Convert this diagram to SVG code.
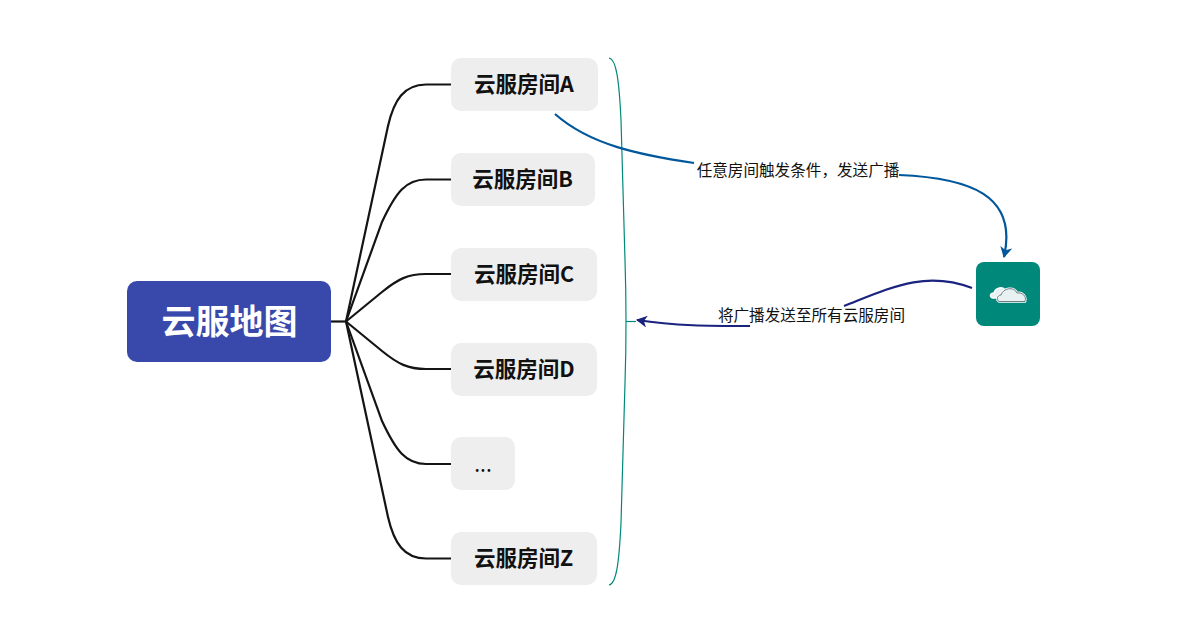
<svg xmlns="http://www.w3.org/2000/svg" width="1198" height="639" viewBox="0 0 1198 639">
<style>
text{font-family:"Microsoft YaHei","Noto Sans CJK SC","Noto Sans",sans-serif;fill:#111}
.n{font-size:21.500px;font-weight:700}
.b{fill:#eeeeee}
.l{font-size:15.600px;fill:#111}
.c{fill:none;stroke:#141414;stroke-width:2.200}
</style>
<defs>
<marker id="ab" markerUnits="userSpaceOnUse" markerWidth="14" markerHeight="14" refX="10" refY="6" orient="auto"><path d="M0 0L11 6L0 12L3 6Z" fill="#01579b"/></marker>
<marker id="an" markerUnits="userSpaceOnUse" markerWidth="14" markerHeight="14" refX="10" refY="6" orient="auto"><path d="M0 0L11 6L0 12L3 6Z" fill="#1a237e"/></marker>
</defs>
<rect width="1198" height="639" fill="#fff"/>
<g id="connectors">
<path class="c" d="M331 321.500H346"/>
<path class="c" d="M346 321.500L388 126C394 100 404 84.500 426 84.500H451"/>
<path class="c" d="M346 321.500L382 222C396 192 406 179.500 426 179.500H451"/>
<path class="c" d="M346 321.500L382 292C398 279 408 274 426 274H451"/>
<path class="c" d="M346 321.500L382 351C398 364 408 369 426 369H451"/>
<path class="c" d="M346 321.500L382 421C396 451 406 464 426 464H451"/>
<path class="c" d="M346 321.500L388 517C394 543 404 558.500 426 558.500H451"/>
<path d="M609 58C616 59 619 78 621 120L625 260C626 290 626 310 626 321.500C626 333 626 353 625 383L621 523C619 565 616 584 609 585" fill="none" stroke="#00897b" stroke-width="1.200"/>
<path d="M626 321.500H636" fill="none" stroke="#00897b" stroke-width="1.200"/>
<path d="M555 114C590 145 640 155 694 163" fill="none" stroke="#01579b" stroke-width="2.200"/>
<path d="M899 175C970 178 1018 195 1004 257" fill="none" stroke="#01579b" stroke-width="2.200" marker-end="url(#ab)"/>
<path d="M972 288C925 270 890 288 844 306" fill="none" stroke="#1a237e" stroke-width="2.200"/>
<path d="M750 326C710 326 675 326 637 320" fill="none" stroke="#1a237e" stroke-width="2.200" marker-end="url(#an)"/>
</g>
<g id="root"><rect x="127" y="281" width="204" height="81" rx="10" fill="#3949ab"/><text x="229.500" y="334" text-anchor="middle" font-size="34" font-weight="700" style="fill:#fff">云服地图</text></g>
<g id="roomA"><rect class="b" x="451" y="58" width="147" height="53" rx="10"/><text class="n" x="524" y="92" text-anchor="middle">云服房间A</text></g>
<g id="roomB"><rect class="b" x="451" y="153" width="144" height="53" rx="10"/><text class="n" x="522.500" y="186.500" text-anchor="middle">云服房间B</text></g>
<g id="roomC"><rect class="b" x="451" y="248" width="146" height="53" rx="10"/><text class="n" x="524" y="281.500" text-anchor="middle">云服房间C</text></g>
<g id="roomD"><rect class="b" x="451" y="343" width="146" height="53" rx="10"/><text class="n" x="524" y="376.500" text-anchor="middle">云服房间D</text></g>
<g id="roomMore"><rect class="b" x="451" y="437" width="64" height="53" rx="10"/><text x="483" y="472" text-anchor="middle" font-size="21">...</text></g>
<g id="roomZ"><rect class="b" x="451" y="532" width="146" height="53" rx="10"/><text class="n" x="523.500" y="566" text-anchor="middle">云服房间Z</text></g>
<g id="cloud"><rect x="976" y="262" width="64" height="64" rx="8" fill="#00897b"/>
<path d="M993 298C989 297 990 293 994 293C995 288 1002 286 1005 290L1002 298Z" fill="#e8f1f2" stroke="#fff" stroke-width="1.400"/>
<path d="M999 301.500C996 300 997 295 1001 295C1003 288 1014 286 1017 293C1022 292 1027 296 1025 301.500Z" fill="#e8f1f2" stroke="#fff" stroke-width="2.400"/>
<path d="M999 301.500C996 300 997 295 1001 295C1003 288 1014 286 1017 293C1022 292 1027 296 1025 301.500Z" fill="#e8f1f2" stroke="#37474f" stroke-width="0.700"/></g>
<g id="labels">
<text class="l" x="798" y="176" text-anchor="middle">任意房间触发条件，发送广播</text>
<text class="l" x="811.500" y="321" text-anchor="middle">将广播发送至所有云服房间</text>
</g>
</svg>
